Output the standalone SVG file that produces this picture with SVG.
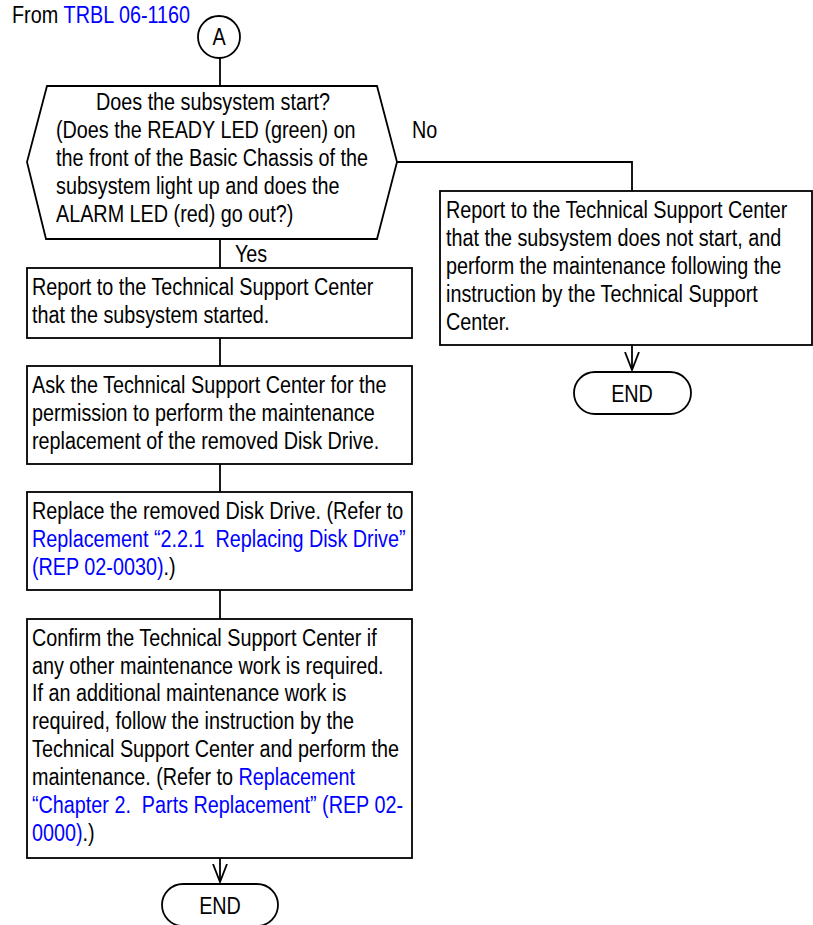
<svg xmlns="http://www.w3.org/2000/svg" width="813" height="925" viewBox="0 0 813 925">
<style>
.shape{fill:#fff;stroke:#000;stroke-width:1.8}
.conn{fill:none;stroke:#000;stroke-width:1.8}
text{font-family:"Liberation Sans",Arial,sans-serif;font-size:23px;fill:#000}
.lnk{fill:#0000ff}
.mid{text-anchor:middle}
</style>
<defs>
<marker id="arr" viewBox="0 0 20 16" refX="18" refY="8" markerWidth="20" markerHeight="16" markerUnits="userSpaceOnUse" orient="auto">
<path d="M0,1 L18,8 L0,15" fill="none" stroke="#000" stroke-width="1.8"/>
</marker>
</defs>
<rect width="813" height="925" fill="#fff"/>
<g id="connectors">
<line class="conn" x1="220" y1="58" x2="220" y2="86"/>
<line class="conn" x1="220" y1="239" x2="220" y2="268"/>
<line class="conn" x1="220" y1="338" x2="220" y2="366"/>
<line class="conn" x1="220" y1="464" x2="220" y2="492"/>
<line class="conn" x1="220" y1="590" x2="220" y2="619"/>
<line class="conn" x1="220" y1="858" x2="220" y2="882" marker-end="url(#arr)"/>
<polyline class="conn" points="397,162 632,162 632,191"/>
<line class="conn" x1="632" y1="345" x2="632" y2="370" marker-end="url(#arr)"/>
<text transform="translate(235,262) scale(0.86,1)">Yes</text>
<text transform="translate(412,138) scale(0.86,1)">No</text>
</g>
<g id="from">
<text transform="translate(12,23) scale(0.86,1)">From <tspan class="lnk">TRBL 06-1160</tspan></text>
</g>
<g id="connectorA">
<circle class="shape" cx="219" cy="37" r="21"/>
<text class="mid" transform="translate(219,45) scale(0.86,1)">A</text>
</g>
<g id="decision">
<polygon class="shape" points="47,86 377,86 397,162 377,239 46,239 27,162"/>
<text class="mid" transform="translate(213,110) scale(0.86,1)">Does the subsystem start?</text>
<text transform="translate(56,0) scale(0.86,1)"><tspan x="0" y="138">(Does the READY LED (green) on</tspan><tspan x="0" y="166">the front of the Basic Chassis of the</tspan><tspan x="0" y="194">subsystem light up and does the</tspan><tspan x="0" y="222">ALARM LED (red) go out?)</tspan></text>
</g>
<g id="reportNo">
<rect class="shape" x="440" y="191" width="372" height="154"/>
<text transform="translate(446,0) scale(0.86,1)"><tspan x="0" y="218">Report to the Technical Support Center</tspan><tspan x="0" y="246">that the subsystem does not start, and</tspan><tspan x="0" y="274">perform the maintenance following the</tspan><tspan x="0" y="302">instruction by the Technical Support</tspan><tspan x="0" y="330">Center.</tspan></text>
</g>
<g id="endRight">
<rect class="shape" x="574" y="372" width="117" height="42" rx="21" ry="21"/>
<text class="mid" transform="translate(632,402) scale(0.86,1)">END</text>
</g>
<g id="reportYes">
<rect class="shape" x="27" y="268" width="385" height="70"/>
<text transform="translate(32,0) scale(0.86,1)"><tspan x="0" y="295">Report to the Technical Support Center</tspan><tspan x="0" y="323">that the subsystem started.</tspan></text>
</g>
<g id="askPermission">
<rect class="shape" x="27" y="366" width="385" height="98"/>
<text transform="translate(32,0) scale(0.86,1)"><tspan x="0" y="393">Ask the Technical Support Center for the</tspan><tspan x="0" y="421">permission to perform the maintenance</tspan><tspan x="0" y="449">replacement of the removed Disk Drive.</tspan></text>
</g>
<g id="replaceDrive">
<rect class="shape" x="27" y="492" width="385" height="98"/>
<text transform="translate(32,0) scale(0.86,1)"><tspan x="0" y="519">Replace the removed Disk Drive. (Refer to</tspan><tspan x="0" y="547" class="lnk">Replacement “2.2.1&#160; Replacing Disk Drive”</tspan><tspan x="0" y="575"><tspan class="lnk">(REP 02-0030)</tspan>.)</tspan></text>
</g>
<g id="confirm">
<rect class="shape" x="27" y="619" width="385" height="239"/>
<text transform="translate(32,0) scale(0.86,1)"><tspan x="0" y="646">Confirm the Technical Support Center if</tspan><tspan x="0" y="674">any other maintenance work is required.</tspan><tspan x="0" y="701">If an additional maintenance work is</tspan><tspan x="0" y="729">required, follow the instruction by the</tspan><tspan x="0" y="757">Technical Support Center and perform the</tspan><tspan x="0" y="785">maintenance. (Refer to <tspan class="lnk">Replacement</tspan></tspan><tspan x="0" y="813" class="lnk">“Chapter 2.&#160; Parts Replacement” (REP 02-</tspan><tspan x="0" y="841"><tspan class="lnk">0000)</tspan>.)</tspan></text>
</g>
<g id="endLeft">
<rect class="shape" x="162" y="884" width="116" height="42" rx="21" ry="21"/>
<text class="mid" transform="translate(220,914) scale(0.86,1)">END</text>
</g>
</svg>
